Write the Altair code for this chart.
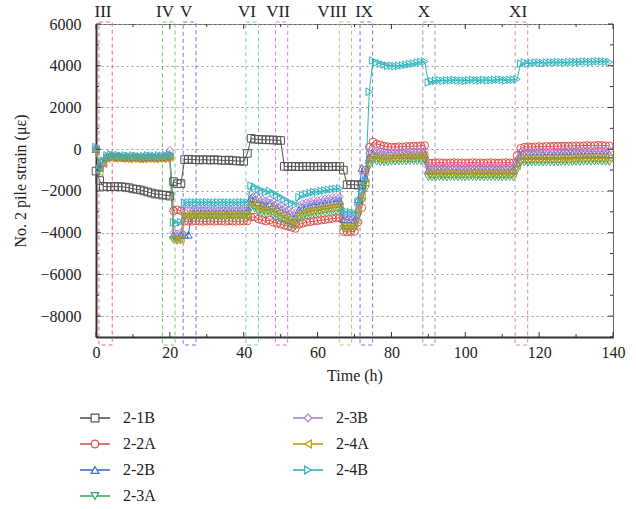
import altair as alt
import pandas as pd

FONT = "Liberation Serif"

# Sampling times (h) shared by all gauges
hours = list(range(0, 140))

# Strain readings (microstrain) per gauge, one value per hour
s_2_1B = [
    -1050, -1500, -1780, -1800, -1800, -1780, -1800, -1800, -1820, -1850,
    -1900, -1920, -1950, -2000, -2050, -2100, -2150, -2150, -2200, -2200,
    -2250, -1550, -1650, -1650, -500, -480, -500, -500, -520, -500,
    -510, -520, -500, -520, -530, -540, -520, -550, -560, -570,
    -580, -200, 520, 480, 470, 460, 450, 450, 440, 430,
    420, -820, -830, -820, -830, -840, -830, -820, -830, -840,
    -830, -820, -830, -840, -830, -820, -830, -1000, -1700, -1700,
    -1700, -1720, -1700,
]
s_2_2A = [
    0, -900, -600, -400, -350, -400, -380, -410, -400, -420,
    -400, -410, -430, -420, -400, -410, -420, -400, -410, -400,
    -350, -2950, -2900, -2950, -3450, -3450, -3460, -3440, -3450, -3460,
    -3450, -3440, -3460, -3450, -3450, -3460, -3440, -3450, -3460, -3450,
    -3450, -3440, -3250, -3250, -3350, -3400, -3450, -3400, -3500, -3550,
    -3600, -3650, -3700, -3750, -3800, -3600, -3550, -3500, -3480, -3450,
    -3430, -3400, -3380, -3350, -3320, -3300, -3280, -3950, -3970, -3950,
    -3950, -3500, -2800, -1000, 100, 350, 250, 200, 150, 120,
    100, 100, 120, 110, 130, 140, 150, 150, 170, 180,
    -650, -660, -650, -640, -650, -660, -650, -640, -650, -650,
    -660, -650, -640, -650, -650, -660, -650, -640, -650, -660,
    -650, -640, -650, -650, -300, 50, 100, 120, 100, 120,
    130, 120, 140, 130, 150, 140, 150, 160, 150, 160,
    170, 160, 170, 180, 170, 180, 190, 180, 170, 160,
]
s_2_2B = [
    0, -900, -650, -380, -330, -380, -360, -390, -380, -400,
    -380, -390, -400, -390, -380, -390, -400, -380, -390, -350,
    -300, -4100, -4150, -4100, -4100, -4100, -2950, -2950, -2960, -2940,
    -2950, -2960, -2950, -2940, -2950, -2960, -2950, -2940, -2950, -2960,
    -2950, -2950, -2350, -2400, -2550, -2600, -2650, -2600, -2700, -2800,
    -2900, -3000, -3100, -3200, -3250, -2900, -2800, -2750, -2700, -2650,
    -2650, -2600, -2580, -2550, -2520, -2500, -2480, -3350, -3380, -3370,
    -3400, -2400, -900, -1400, -400, -200, -250, -280, -300, -300,
    -300, -290, -280, -290, -280, -270, -260, -270, -260, -250,
    -1000, -1010, -1000, -990, -1000, -1010, -1000, -990, -1000, -1000,
    -1010, -1000, -990, -1000, -1000, -1010, -1000, -990, -1000, -1010,
    -1000, -990, -1000, -1000, -650, -300, -280, -270, -280, -270,
    -260, -270, -250, -260, -250, -260, -250, -240, -250, -240,
    -230, -240, -230, -220, -230, -220, -210, -220, -230, -240,
]
s_2_3A = [
    -50, -950, -650, -420, -380, -420, -400, -430, -420, -440,
    -420, -430, -450, -440, -420, -430, -440, -420, -430, -400,
    -350, -4350, -4400, -4350, -3250, -3250, -3260, -3240, -3250, -3260,
    -3250, -3240, -3260, -3250, -3250, -3260, -3240, -3250, -3260, -3250,
    -3250, -3240, -2800, -2850, -3000, -3050, -3100, -3050, -3150, -3250,
    -3350, -3450, -3550, -3650, -3700, -3350, -3250, -3200, -3150, -3100,
    -3100, -3050, -3030, -3000, -2970, -2950, -2930, -3800, -3820, -3800,
    -3800, -3200, -2500, -1900, -800, -550, -600, -620, -630, -620,
    -600, -600, -590, -600, -590, -580, -590, -580, -570, -560,
    -1350, -1360, -1350, -1340, -1350, -1360, -1350, -1340, -1350, -1350,
    -1360, -1350, -1340, -1350, -1350, -1360, -1350, -1340, -1350, -1360,
    -1350, -1340, -1350, -1350, -1000, -650, -640, -650, -640, -650,
    -640, -650, -630, -640, -630, -640, -630, -620, -630, -620,
    -610, -620, -610, -600, -610, -600, -590, -600, -610, -620,
]
s_2_3B = [
    50, -800, -600, -350, -300, -350, -330, -360, -350, -370,
    -350, -360, -380, -370, -350, -360, -370, -350, -360, -300,
    -50, -4000, -4050, -4000, -2800, -2800, -2810, -2820, -2800, -2800,
    -2810, -2800, -2820, -2810, -2800, -2800, -2810, -2820, -2800, -2810,
    -2800, -2800, -2150, -2200, -2350, -2400, -2450, -2400, -2500, -2600,
    -2700, -2800, -2900, -3000, -3050, -2700, -2600, -2550, -2500, -2450,
    -2450, -2400, -2380, -2350, -2320, -2300, -2280, -3200, -3220, -3230,
    -3250, -2700, -2100, -1200, -200, 0, -50, -100, -120, -150,
    -150, -130, -120, -130, -110, -100, -90, -100, -80, -60,
    -850, -860, -850, -840, -850, -860, -850, -840, -850, -850,
    -860, -850, -840, -850, -850, -860, -850, -840, -850, -860,
    -850, -840, -850, -850, -500, -150, -120, -100, -120, -100,
    -90, -100, -80, -90, -70, -80, -70, -60, -70, -60,
    -50, -60, -50, -40, -50, -40, -30, -40, -50, -60,
]
s_2_4A = [
    -100, -1100, -700, -450, -400, -450, -430, -460, -450, -470,
    -450, -460, -480, -470, -450, -460, -470, -450, -460, -440,
    -400, -4300, -4350, -4300, -3150, -3150, -3160, -3140, -3150, -3160,
    -3150, -3140, -3160, -3150, -3150, -3160, -3140, -3150, -3160, -3150,
    -3150, -3140, -2600, -2650, -2800, -2850, -2900, -2850, -2950, -3050,
    -3150, -3250, -3350, -3450, -3500, -3150, -3050, -3000, -2950, -2900,
    -2900, -2850, -2830, -2800, -2770, -2750, -2730, -3700, -3720, -3700,
    -3700, -2900, -2300, -1600, -500, -350, -400, -420, -430, -420,
    -400, -400, -380, -380, -370, -360, -350, -340, -330, -320,
    -1150, -1160, -1150, -1140, -1150, -1160, -1150, -1140, -1150, -1150,
    -1160, -1150, -1140, -1150, -1150, -1160, -1150, -1140, -1150, -1160,
    -1150, -1140, -1150, -1150, -800, -450, -440, -450, -440, -450,
    -440, -450, -430, -440, -430, -440, -430, -420, -430, -420,
    -410, -420, -410, -400, -410, -400, -390, -400, -410, -420,
]
s_2_4B = [
    100, -1000, -550, -300, -250, -300, -280, -320, -300, -330,
    -300, -320, -350, -330, -300, -310, -330, -300, -320, -300,
    -250, -3500, -3550, -3500, -2550, -2550, -2540, -2560, -2550, -2550,
    -2540, -2550, -2560, -2550, -2540, -2550, -2550, -2560, -2550, -2540,
    -2550, -2550, -1750, -1800, -1950, -2000, -2050, -2000, -2100, -2200,
    -2300, -2400, -2500, -2600, -2650, -2300, -2200, -2150, -2100, -2050,
    -2050, -2000, -1980, -1950, -1920, -1900, -1880, -3000, -3000, -3020,
    -3050, -2500, -2000, -1500, 2750, 4250, 4150, 4100, 4050, 4000,
    4000, 3980, 4000, 4020, 4050, 4080, 4100, 4150, 4180, 4200,
    3200, 3250, 3280, 3300, 3280, 3300, 3300, 3320, 3300, 3300,
    3280, 3300, 3320, 3300, 3300, 3320, 3300, 3300, 3320, 3340,
    3320, 3300, 3320, 3330, 3350, 4100, 4150, 4100, 4120, 4150,
    4150, 4130, 4150, 4160, 4150, 4170, 4160, 4150, 4170, 4180,
    4170, 4180, 4200, 4190, 4180, 4200, 4210, 4200, 4200, 4180,
]

series_names = ["2-1B", "2-2A", "2-2B", "2-3A", "2-3B", "2-4A", "2-4B"]
series_values = [s_2_1B, s_2_2A, s_2_2B, s_2_3A, s_2_3B, s_2_4A, s_2_4B]
series_colors = ["#555555", "#e0504a", "#3f6fc6", "#3fa86a", "#b27fd6", "#c99a12", "#2db5be"]
series_shapes = ["square", "circle", "triangle-up", "triangle-down", "diamond",
                 "triangle-left", "triangle-right"]

# Construction stages: interval start/end (h) and where the stage name sits
event_labels = ["III", "IV", "V", "VI", "VII", "VIII", "IX", "X", "XI"]
event_start = [0.8, 18.0, 23.6, 40.6, 48.6, 65.9, 71.5, 88.5, 113.5]
event_end = [4.4, 21.4, 27.1, 44.0, 51.9, 69.2, 74.9, 91.8, 116.9]
event_label_at = [1.9, 18.7, 24.4, 40.9, 49.3, 63.9, 72.6, 88.8, 114.3]
event_colors = ["#e8706a", "#7cc87c", "#7878d8", "#70d0e0", "#d880d8",
                "#c8c488", "#7880d0", "#b090b8", "#c890b0"]

x_major = [0, 20, 40, 60, 80, 100, 120, 140]
x_minor = [10, 30, 50, 70, 90, 110, 130]
y_major = [-8000, -6000, -4000, -2000, 0, 2000, 4000, 6000]
y_minor = [-9000, -7000, -5000, -3000, -1000, 1000, 3000, 5000]

# Legend arrangement: two columns, filled top to bottom
legend_col = [0, 0, 0, 0, 1, 1, 1]
legend_row = [0, 1, 2, 3, 0, 1, 2]

W, H = 517, 313

rows = []
for name, vals in zip(series_names, series_values):
    for t, v in zip(hours, vals):
        rows.append({"series": name, "time": t, "strain": v})
df = pd.DataFrame(rows)

events = pd.DataFrame({"label": event_labels, "start": event_start,
                       "end": event_end, "label_at": event_label_at})
legend_df = pd.DataFrame({"series": series_names, "col": legend_col, "row": legend_row})

x_scale = alt.Scale(domain=[0, 140], nice=False, zero=False)
y_scale = alt.Scale(domain=[-9000, 6000], nice=False, zero=False)
color_scale = alt.Scale(domain=series_names, range=series_colors)
shape_scale = alt.Scale(domain=series_names, range=series_shapes)

x_axis = alt.Axis(values=x_major, format="d", title="Time (h)", grid=False, orient="bottom",
                  ticks=False, domainColor="#333333", domainWidth=2,
                  labelFont=FONT, labelFontSize=16, labelColor="#222222",
                  labelPadding=7, labelFlush=False, titleFont=FONT,
                  titleFontSize=16, titleFontWeight="normal", titleColor="#222222",
                  titlePadding=7)
y_axis = alt.Axis(values=y_major, format="d", title="No. 2 pile strain (με)", orient="left",
                  grid=True, gridDash=[2, 3], gridColor="#9a9a9a", gridWidth=1,
                  ticks=False, domainColor="#333333", domainWidth=2,
                  labelFont=FONT, labelFontSize=16, labelColor="#222222",
                  labelPadding=15, titleFont=FONT, titleFontSize=16,
                  titleFontWeight="normal", titleColor="#222222", titlePadding=11)

boxes = alt.Chart(events).mark_rect(filled=False, strokeDash=[4, 3], strokeWidth=1).encode(
    x=alt.X("start:Q", scale=x_scale, axis=None),
    x2="end:Q",
    y=alt.value(-2),
    y2=alt.value(H + 8),
    stroke=alt.Stroke("label:N", scale=alt.Scale(domain=event_labels, range=event_colors),
                      legend=None),
)

lines = alt.Chart(df).mark_line(strokeWidth=1).encode(
    x=alt.X("time:Q", scale=x_scale, axis=x_axis),
    y=alt.Y("strain:Q", scale=y_scale, axis=y_axis),
    color=alt.Color("series:N", scale=color_scale, legend=None),
)

points = alt.Chart(df).mark_point(filled=False, size=58, strokeWidth=1, opacity=1).encode(
    x=alt.X("time:Q", scale=x_scale, axis=None),
    y=alt.Y("strain:Q", scale=y_scale, axis=None),
    color=alt.Color("series:N", scale=color_scale, legend=None),
    shape=alt.Shape("series:N", scale=shape_scale, legend=None),
)


def x_ticks(vals, y0, y1):
    return alt.Chart(pd.DataFrame({"v": vals})).mark_rule(color="#333333", strokeWidth=1).encode(
        x=alt.X("v:Q", scale=x_scale, axis=None), y=alt.value(y0), y2=alt.value(y1))


def y_ticks(vals, x0, x1):
    return alt.Chart(pd.DataFrame({"v": vals})).mark_rule(color="#333333", strokeWidth=1).encode(
        y=alt.Y("v:Q", scale=y_scale, axis=None), x=alt.value(x0), x2=alt.value(x1))


ticks = [
    x_ticks(x_major, H, H - 5), x_ticks(x_minor, H, H - 3),
    x_ticks(x_major, 0, 5), x_ticks(x_minor, 0, 3),
    y_ticks(y_major, 0, 5), y_ticks(y_minor, 0, 3),
    y_ticks(y_major, W, W - 5), y_ticks(y_minor, W, W - 3),
]

stage_text = alt.Chart(events).mark_text(font=FONT, fontSize=17, color="#222222",
                                          align="center", baseline="middle").encode(
    x=alt.X("label_at:Q", scale=x_scale, axis=None),
    y=alt.value(-12),
    text="label:N",
)

leg_x = alt.Scale(domain=[0, 1], range=[-1, 212])
leg_y = alt.Scale(domain=[0, 3], range=[394, 472])

leg_line = alt.Chart(legend_df).mark_rule(strokeWidth=1.6, xOffset=-15, x2Offset=15).encode(
    x=alt.X("col:Q", scale=leg_x, axis=None),
    x2="col:Q",
    y=alt.Y("row:Q", scale=leg_y, axis=None),
    color=alt.Color("series:N", scale=color_scale, legend=None),
)
leg_mark = alt.Chart(legend_df).mark_point(size=60, strokeWidth=1.2, opacity=1).encode(
    x=alt.X("col:Q", scale=leg_x, axis=None),
    y=alt.Y("row:Q", scale=leg_y, axis=None),
    shape=alt.Shape("series:N", scale=shape_scale, legend=None),
    stroke=alt.Stroke("series:N", scale=color_scale, legend=None),
    fill=alt.value("white"),
)
leg_text = alt.Chart(legend_df).mark_text(font=FONT, fontSize=16, color="#222222",
                                          align="left", baseline="middle", dx=28).encode(
    x=alt.X("col:Q", scale=leg_x, axis=None),
    y=alt.Y("row:Q", scale=leg_y, axis=None),
    text="series:N",
)

# Every layer carries explicit scale domains, so independent scales line up;
# only the legend layers map onto their own coordinates below the plot.
chart = alt.layer(
    boxes, lines, points, *ticks, stage_text, leg_line, leg_mark, leg_text
).resolve_scale(
    x="independent", y="independent", color="independent",
    shape="independent", stroke="independent",
).properties(
    width=W, height=H,
    autosize=alt.AutoSizeParams(type="none"),
    padding={"left": 96, "top": 24, "right": 636 - 96 - W, "bottom": 509 - 24 - H},
    background="white",
).configure_view(stroke="#666666", strokeWidth=1)

chart.save("out.html", embed_options={"renderer": "svg", "actions": False})
